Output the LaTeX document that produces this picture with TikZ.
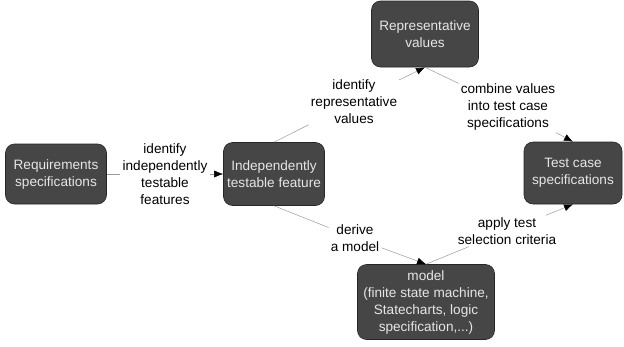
\documentclass[tikz,border=0pt]{standalone}
\usepackage{fontspec}
\setmainfont{Liberation Sans}
\usetikzlibrary{arrows.meta}
\definecolor{boxfill}{HTML}{464646}
\definecolor{boxtext}{HTML}{E6E6E6}
\definecolor{linegray}{HTML}{9A9A9A}
\begin{document}
\begin{tikzpicture}[
    x=1pt, y=-1pt,
    every node/.style={font=\fontsize{13.6}{17}\selectfont, align=center},
    stage/.style={draw=black!85, fill=boxfill, text=boxtext, rounded corners=9pt,
      inner sep=0pt, line width=0.6pt},
    step label/.style={inner sep=2pt, text=black},
    flow/.style={draw=linegray, line width=0.5pt,
      -{Latex[color=black, length=9pt, width=7pt]}}
  ]
  \useasboundingbox (0,0) rectangle (624,346);
  \node[stage, minimum width=101pt, minimum height=60pt] (req) at (56,174)
    {Requirements\\specifications};
  \node[stage, minimum width=101pt, minimum height=63pt] (indep) at (274,174)
    {Independently\\testable feature};
  \node[stage, minimum width=107pt, minimum height=66pt] (rep) at (425,34)
    {Representative\\values};
  \node[stage, minimum width=98pt, minimum height=62pt] (test) at (573,173)
    {Test case\\specifications};
  \node[stage, minimum width=137pt, minimum height=75pt] (model) at (426,302)
    {model\\(finite state machine,\\Statecharts, logic\\specification,...)};

  \node[step label] (l1) at (165,174) {identify\\independently\\testable\\features};
  \node[step label] (l2) at (354,102) {identify\\representative\\values};
  \node[step label] (l3) at (508,107) {combine values\\into test case\\specifications};
  \node[step label] (l4) at (355,238) {derive\\a model};
  \node[step label] (l5) at (507,231) {apply test\\selection criteria};

  \draw[flow] (req.east) -- (l1) -- (indep.west);
  \draw[flow] (indep.north) -- (l2) -- (rep.south);
  \draw[flow] (rep.south) -- (l3) -- (test.north);
  \draw[flow] (indep.south) -- (l4) -- (model.north);
  \draw[flow] (model.north) -- (l5) -- (test.south);
\end{tikzpicture}
\end{document}
